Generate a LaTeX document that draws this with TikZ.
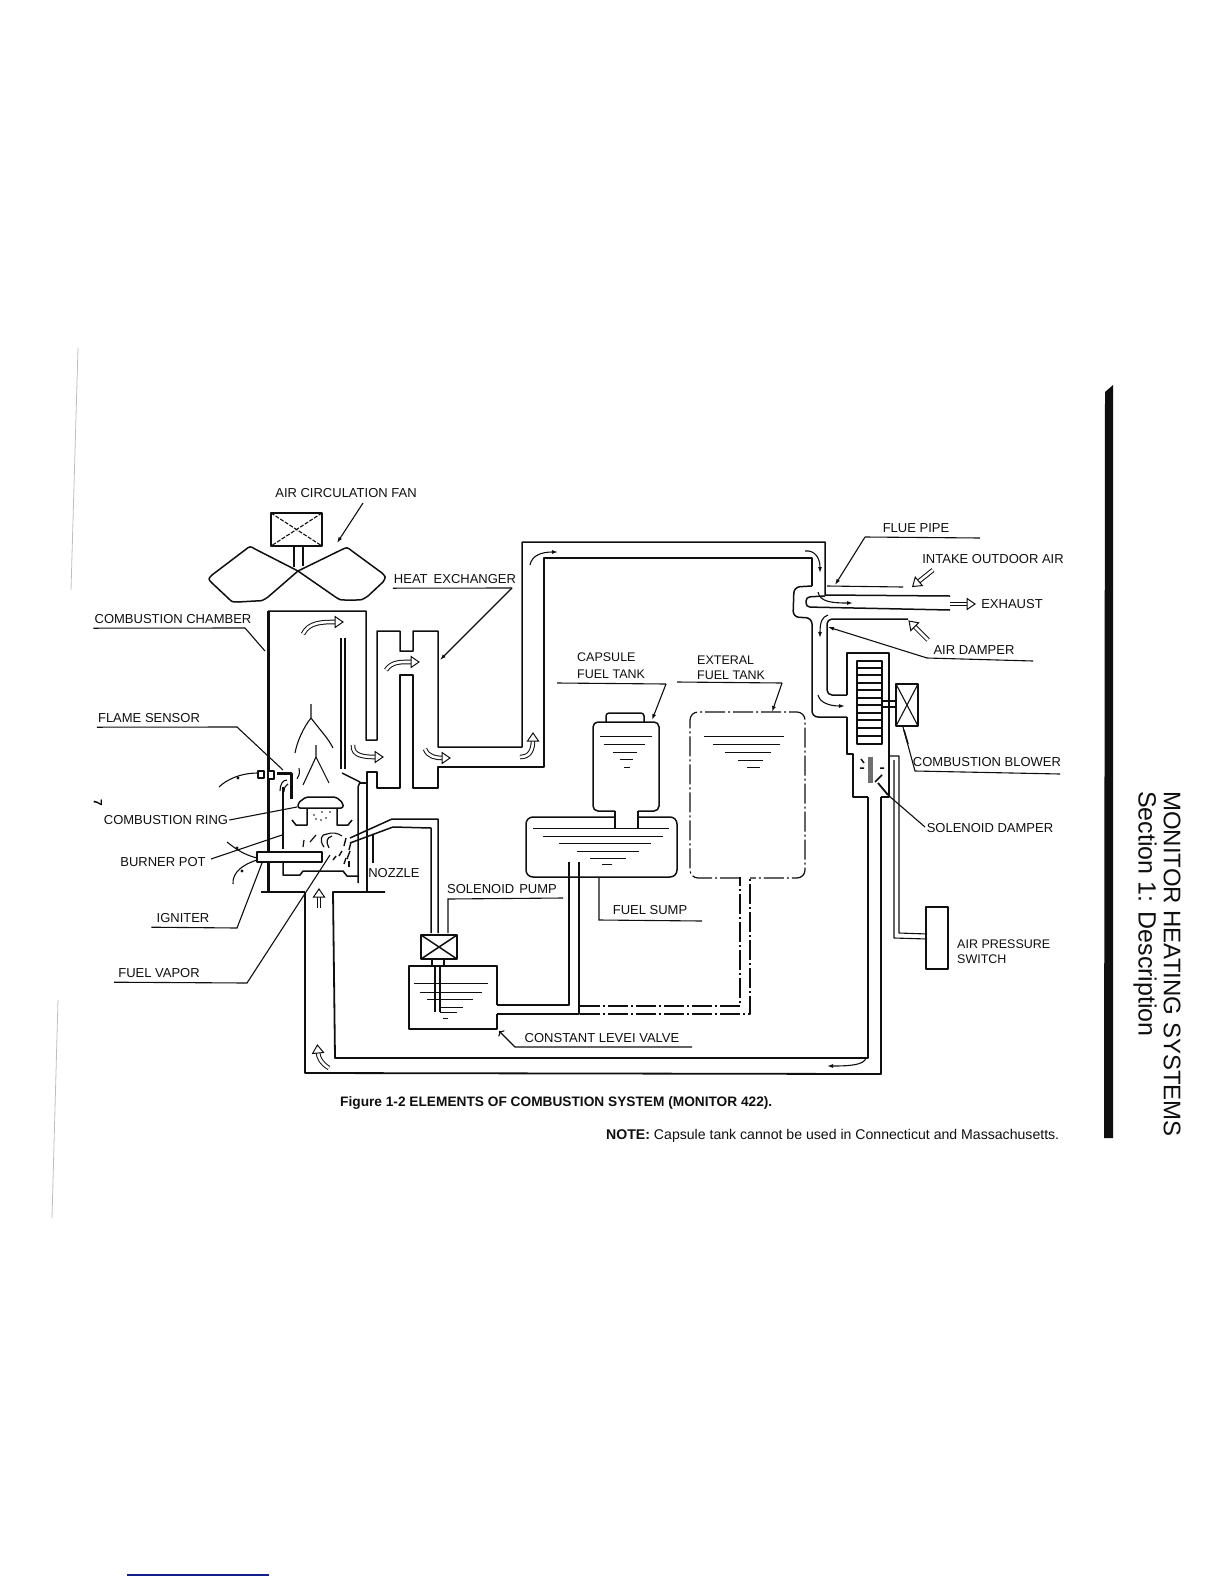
\documentclass[tikz,border=0pt]{standalone}
\usepackage{fontspec}
\setmainfont{Liberation Sans}
\usetikzlibrary{arrows.meta,calc}
\definecolor{scanink}{RGB}{15,15,15}
\definecolor{scanedge}{RGB}{190,190,190}
\definecolor{linkblue}{RGB}{20,30,140}
\tikzset{
  pipe/.style={draw=scanink, line width=1.5pt, line join=round},
  wall/.style={pipe, line width=3pt},
  tube/.style={pipe, line width=1.1pt},
  dashpipe/.style={pipe, line width=1.2pt, dash pattern=on 20pt off 3pt on 2pt off 3pt},
  level/.style={draw=scanink, line width=1pt},
  lead/.style={draw=scanink, line width=1.1pt},
  arr/.style={lead, -{Latex[length=6pt,width=4pt]}},
  flow/.style={draw=scanink, line width=1pt, double=white, double distance=2.6pt},
  flowhead/.pic={\draw[fill=white, draw=scanink, line width=1pt] (-1,-5.5) -- (7,0) -- (-1,5.5) -- cycle;},
  lbl/.style={font=\fontsize{13}{14}\selectfont, text=scanink, inner xsep=1pt, inner ysep=4.5pt, text height=9pt, text depth=0pt, anchor=center},
  txt/.style={font=\fontsize{12.5}{15}\selectfont, text=scanink, inner sep=0pt, align=left, anchor=west}
}
\begin{document}
\begin{tikzpicture}[x=1pt,y=-1pt]
  \useasboundingbox (0,0) rectangle (1224,1584);

  \draw[scanedge, line width=0.8pt] (78,348) -- (71,590);
  \draw[scanedge, line width=0.8pt] (58,1000) -- (52,1218);
  \draw[linkblue, line width=1.2pt] (127,1575) -- (269,1575);
  \fill[scanink] (1105,392) -- (1113,385) -- (1113,1138) -- (1104,1138) -- cycle;

  \node[rotate=-90, inner sep=0pt, font=\fontsize{24}{26}\selectfont, text=scanink] (sidetitle) at (1172,964) {MONITOR HEATING SYSTEMS};
  \node[rotate=-90, inner sep=0pt, font=\fontsize{25}{27}\selectfont, text=scanink] (sidesec) at (1145,914) {Section 1: Description};
  \node[txt, font=\fontsize{13.7}{15}\bfseries] (figcap) at (340,1103) {Figure 1-2 ELEMENTS OF COMBUSTION SYSTEM (MONITOR 422).};
  \node[txt, font=\fontsize{14.1}{16}\selectfont] (note) at (606,1136) {\textbf{NOTE:} Capsule tank cannot be used in Connecticut and Massachusetts.};
  \node[rotate=-90, inner sep=0pt, font=\bfseries\fontsize{12}{13}\selectfont] (pagemark) at (98,803) {7};

  \draw[pipe] (271,513) rectangle (322,546);
  \draw[tube, dash pattern=on 4pt off 1.5pt] (271,513) -- (322,546) (322,513) -- (271,546);
  \draw[pipe] (294,546) -- (294,567) (303,546) -- (303,566);
  \draw[pipe] (298,571) -- (255,549) .. controls (250,546) .. (245,550) -- (212,575) .. controls (208,579) .. (212,583) -- (228,598) .. controls (232,602) .. (238,602) -- (255,601) .. controls (262,601) .. (268,597) -- cycle;
  \draw[pipe] (298,571) -- (341,550) .. controls (347,547) .. (352,551) -- (382,573) .. controls (386,577) .. (383,582) -- (368,596) .. controls (362,600) .. (356,600) -- (345,600) .. controls (340,600) .. (334,596) -- cycle;

  \draw[wall] (268,611) -- (268,892);
  \draw[pipe] (268,611) -- (366,611) -- (366,740) -- (377,740) -- (377,631) -- (400,631) -- (400,651) -- (413,651) -- (413,631) -- (438,631) -- (438,747) -- (522,747) -- (522,542) -- (825,542) -- (825,595) -- (950,596);
  \draw[pipe] (367,892) -- (367,772) -- (377,772) -- (377,788) -- (400,788) -- (400,675) -- (413,675) -- (413,788) -- (438,788) -- (438,767) -- (544,767) -- (544,558) -- (812,558) -- (812,586);
  \draw[pipe, rounded corners=6pt] (812,586) -- (794,587) -- (793,617) -- (812,618) -- (812,717) -- (847,717);
  \draw[pipe, rounded corners=4pt] (825,596) -- (806,597) -- (806,607) -- (950,610);
  \draw[pipe, rounded corners=5pt] (908,619) -- (827,619) -- (827,695) -- (847,695);
  \draw[tube] (827,586) -- (903,587);
  \draw[pipe] (847,695) -- (847,653) -- (889,653) -- (889,797) -- (881,797);
  \draw[pipe] (847,717) -- (847,754) -- (853,754) -- (853,797) -- (868,797);
  \draw[pipe, line width=1.8pt] (868,797) -- (868,1058) -- (335,1058) -- (333,892) -- (385,892);
  \draw[pipe, line width=1.8pt] (881,797) -- (881,1074) -- (305,1073) -- (305,892);
  \draw[pipe] (305,892) -- (261,892);

  \draw[wall, line width=1.8pt] (341,638) -- (341,769);
  \draw[tube] (345,638) -- (345,769);
  \draw[pipe] (342,773) -- (360,782) -- (358,787) -- (358,883);
  \draw[tube] (360,783) -- (366,783);
  \draw[pipe] (373,835) -- (373,863);

  \draw[lead] (311,704) -- (311,718) .. controls (303,728) and (297,742) .. (295,753);
  \draw[lead] (311,718) .. controls (320,730) and (328,738) .. (333,748);
  \draw[lead] (316,745) -- (316,757) -- (303,785);
  \draw[lead] (316,757) -- (329,783);
  \draw[lead] (299,768) .. controls (300,774) and (299,776) .. (297,779);

  \draw[wall] (277,773) -- (291,773) -- (291,799);
  \draw[tube, fill=white] (258,771) rectangle (264,778);
  \draw[tube, fill=white] (268,771) rectangle (274,779);
  \draw[pipe] (283,787) -- (283,849);
  \draw[pipe] (283,862) -- (283,875) -- (300,875) -- (303,871) -- (343,871) -- (347,876) -- (359,876);
  \draw[tube] (280,791) .. controls (280,784) and (283,780) .. (287,780) (284,792) .. controls (284,787) and (286,785) .. (288,784);

  \draw[pipe, rounded corners=2pt] (298,808) -- (298,803) -- (306,797) -- (336,797) -- (343,803) -- (343,808) -- cycle;
  \draw[pipe] (307,808) -- (307,825) -- (296,825) -- (292,820);
  \draw[pipe] (337,808) -- (337,825) -- (348,825) -- (352,820);
  \foreach \dotx/\doty in {314/815,322/812,326/818,316/819,330/812,321/820}
    \fill[scanink] (\dotx,\doty) circle (0.9);

  \draw[pipe, fill=white] (257,852) rectangle (322,862);
  \draw[pipe] (350,838) -- (392,819) -- (438,819) -- (438,933);
  \draw[pipe] (350,843) -- (393,827) -- (431,828) -- (431,933);
  \foreach \sprayx/\sprayy/\sprayu/\sprayv in {346/838/344/846,351/842/349/850,342/851/339/856,350/851/347/859,346/858/344/864,336/856/333/860,349/861/349/867}
    \draw[pipe, line width=1.4pt] (\sprayx,\sprayy) -- (\sprayu,\sprayv);
  \draw[pipe, line width=1.2pt] (303,847) -- (304,840) (310,842) -- (316,835);
  \draw[pipe, line width=1.2pt] (324,847) .. controls (319,840) and (321,834) .. (327,834) (329,848) .. controls (326,842) and (326,838) .. (332,836);
  \draw[lead] (327,834) .. controls (332,832) and (338,833) .. (342,836);

  \draw[pipe, fill=white] (421,935) rectangle (457,959);
  \draw[pipe] (421,935) -- (457,959) (457,935) -- (421,959);
  \draw[pipe] (432,959) -- (432,966) (444,959) -- (444,966);
  \draw[pipe] (497,1005) -- (497,966) -- (409,966) -- (409,1029) -- (497,1029) -- (497,1014);
  \draw[pipe] (435,966) -- (435,1012) (440,966) -- (440,1012);
  \foreach \lx/\rx/\ly in {414/488/983,420/482/992,427/473/999,440/463/1007,440/457/1012,443/448/1018}
    \draw[level] (\lx,\ly) -- (\rx,\ly);

  \draw[pipe] (497,1005) -- (569,1005) -- (569,862);
  \draw[pipe] (497,1014) -- (579,1014) -- (579,862);
  \draw[dashpipe] (580,1006) -- (740,1006) -- (740,877);
  \draw[dashpipe] (580,1014) -- (750,1014) -- (750,877);

  \draw[pipe, rounded corners=7pt] (615,817) -- (526,817) -- (526,877) -- (677,877) -- (677,817) -- (638,817);
  \draw[pipe] (615,828) -- (615,811);
  \draw[pipe] (638,828) -- (638,811);
  \draw[pipe, rounded corners=5pt] (615,811) -- (593,811) -- (593,722) -- (659,722) -- (659,811) -- (638,811);
  \draw[pipe, rounded corners=3pt] (606,722) -- (606,713) -- (644,713) -- (644,722);
  \foreach \lx/\rx/\ly in {600/652/736,604/645/744,613/637/752,620/633/759,624/630/767,533/669/828,543/663/836,559/651/843,577/639/851,590/626/858,602/612/864}
    \draw[level] (\lx,\ly) -- (\rx,\ly);
  \draw[dashpipe, rounded corners=8pt] (740,878) -- (690,878) -- (690,712) -- (805,712) -- (805,878) -- (750,878);
  \foreach \lx/\rx/\ly in {704/784/736,713/780/744,725/771/752,738/763/760,747/760/767}
    \draw[level] (\lx,\ly) -- (\rx,\ly);

  \draw[pipe] (857,661) rectangle (882,744);
  \foreach \sloty in {668,675,683,690,698,705,713,720,728,736}
    \draw[tube] (857,\sloty) -- (882,\sloty);
  \draw[tube] (882,701) -- (896,701) (882,707) -- (896,707);
  \draw[pipe] (896,684) rectangle (918,726);
  \draw[tube] (896,684) -- (918,726) (918,684) -- (896,726);
  \fill[scanink!60] (868,757) rectangle (873,783);
  \draw[pipe] (861,759) -- (864,763) (860,768) -- (864,768) (880,768) -- (884,768) (875,782) -- (882,775);
  \draw[tube] (890,756) -- (899,756) -- (899,933) -- (927,934);
  \draw[tube] (894,760) -- (894,938) -- (927,939);
  \draw[pipe] (926,907) rectangle (948,969);

  \draw[flow] (303,634) .. controls (309,622) and (322,622) .. (336,622);
  \pic at (336,622) {flowhead};
  \draw[flow] (386,670) .. controls (392,661) and (402,662) .. (412,662);
  \pic at (412,662) {flowhead};
  \draw[flow] (353,745) .. controls (352,756) and (364,757) .. (376,757);
  \pic at (376,757) {flowhead};
  \draw[flow] (425,749) .. controls (428,757) and (436,758) .. (443,758);
  \pic at (443,758) {flowhead};
  \draw[flow] (520,757) .. controls (530,757) and (533,750) .. (533,740);
  \pic[rotate=90] at (533,740) {flowhead};
  \draw[flow] (329,1068) .. controls (322,1064) and (318,1058) .. (318,1052);
  \pic[rotate=95] at (318,1052) {flowhead};
  \draw[flow] (319,908) -- (319,896);
  \pic[rotate=90] at (319,896) {flowhead};
  \draw[flow] (950,604) -- (968,604);
  \pic at (968,604) {flowhead};
  \draw[flow] (933,570) -- (918,582);
  \pic[rotate=220] at (918,582) {flowhead};
  \draw[flow] (928,640) -- (914,626);
  \pic[rotate=135] at (914,626) {flowhead};

  \draw[arr] (530,565) .. controls (532,555) and (542,552) .. (558,552);
  \draw[arr] (805,551) .. controls (815,550) and (820,558) .. (820,573);
  \draw[arr] (818,592) .. controls (820,602) and (832,603) .. (853,603);
  \draw[arr] (828,615) .. controls (822,617) and (820,622) .. (820,638);
  \draw[arr] (818,695) .. controls (820,703) and (830,706) .. (845,706);
  \draw[arr] (866,1058) .. controls (864,1065) and (850,1066) .. (827,1066);

  \draw[lead] (219,787) .. controls (226,780) and (240,773) .. (258,773);
  \draw[lead] (227,842) .. controls (237,850) and (245,855) .. (257,858);
  \draw[lead] (233,884) .. controls (232,872) and (244,864) .. (257,860);
  \fill[scanink] (238,778) circle (1.6) (237,848) circle (1.6) (242,871) circle (1.6);

  \node[lbl] (lblfan) at (346,493) {AIR CIRCULATION FAN};
  \node[lbl] (lblhx) at (455,579) {HEAT\hspace{6pt}EXCHANGER};
  \node[lbl] (lblchamber) at (173,619) {COMBUSTION CHAMBER};
  \node[lbl] (lblsensor) at (149,718) {FLAME SENSOR};
  \node[lbl] (lblring) at (166,820) {COMBUSTION RING};
  \node[lbl] (lblpot) at (163,862) {BURNER POT};
  \node[lbl] (lblign) at (183,918) {IGNITER};
  \node[lbl] (lblvapor) at (159,973) {FUEL VAPOR};
  \node[lbl] (lblnozzle) at (394,873) {NOZZLE};
  \node[lbl] (lblpump) at (502,889) {SOLENOID\hspace{5pt}PUMP};
  \node[lbl] (lblsump) at (650,910) {FUEL SUMP};
  \node[lbl] (lblvalve) at (602,1038) {CONSTANT LEVEI VALVE};
  \node[txt] (lblcapsule) at (577,666) {CAPSULE\\[2pt]FUEL TANK};
  \node[txt] (lblext) at (697,668) {EXTERAL\\FUEL TANK};
  \node[lbl] (lblflue) at (916,528) {FLUE PIPE};
  \node[lbl] (lblintake) at (993,559) {INTAKE OUTDOOR AIR};
  \node[lbl] (lblexhaust) at (1012,604) {EXHAUST};
  \node[lbl] (lbldamper) at (974,650) {AIR DAMPER};
  \node[lbl] (lblblower) at (987,762) {COMBUSTION BLOWER};
  \node[lbl] (lblsoldamp) at (990,828) {SOLENOID DAMPER};
  \node[txt] (lblswitch) at (957,952) {AIR PRESSURE\\SWITCH};

  \coordinate (fantip) at (337,543);
  \coordinate (hxtip) at (440,660);
  \coordinate (chambertip) at (265,651);
  \coordinate (sensortip) at (283,770);
  \coordinate (ringtip) at (297,807);
  \coordinate (pottip) at (282,835);
  \coordinate (igntip) at (262,863);
  \coordinate (vaportip) at (330,855);
  \coordinate (pumptip) at (448,933);
  \coordinate (sumptip) at (599,877);
  \coordinate (valvetip) at (499,1031);
  \coordinate (capsuletip) at (652,720);
  \coordinate (exttip) at (772,712);
  \coordinate (fluetip) at (835,585);
  \coordinate (dampertip) at (828,627);
  \coordinate (blowertip) at (903,727);
  \coordinate (soldamptip) at (878,783);

  \draw[arr] (363,503) -- (fantip);
  \draw[lead] (lblhx.south west) -- (512,588);
  \draw[arr] (512,588) -- (hxtip);
  \draw[lead] (lblchamber.south west) -- (245,628) -- (chambertip);
  \draw[lead] (lblsensor.south west) -- (237,727) -- (sensortip);
  \draw[lead] (lblring.east) -- (ringtip);
  \draw[lead] (211,859) -- (pottip);
  \draw[lead] (lblign.south west) ++(-4,0) -- (237,928) -- (igntip);
  \draw[lead] (lblvapor.south west) ++(-3,0) -- (247,983) -- (vaportip);
  \draw[lead] (pumptip) -- (448,899) -- (563,898);
  \draw[lead] (sumptip) -- (599,920) -- (702,921);
  \draw[arr, <-] (valvetip) -- (515,1047) -- (692,1047);
  \draw[lead] (557,683) -- (666,684);
  \draw[arr] (666,684) -- (capsuletip);
  \draw[lead] (677,682) -- (782,683);
  \draw[arr] (782,683) -- (exttip);
  \draw[lead] (980,538) -- (865,537);
  \draw[arr] (865,537) -- (fluetip);
  \draw[lead] (1033,661) -- (927,658);
  \draw[arr] (927,658) -- (dampertip);
  \draw[lead] (1060,774) -- (915,771) -- (blowertip);
  \draw[pipe] (904,730) -- (908,744);
  \draw[pipe, line width=1.8pt] (soldamptip) -- (888,795);
  \draw[lead] (888,795) -- (925,827);
\end{tikzpicture}
\end{document}
